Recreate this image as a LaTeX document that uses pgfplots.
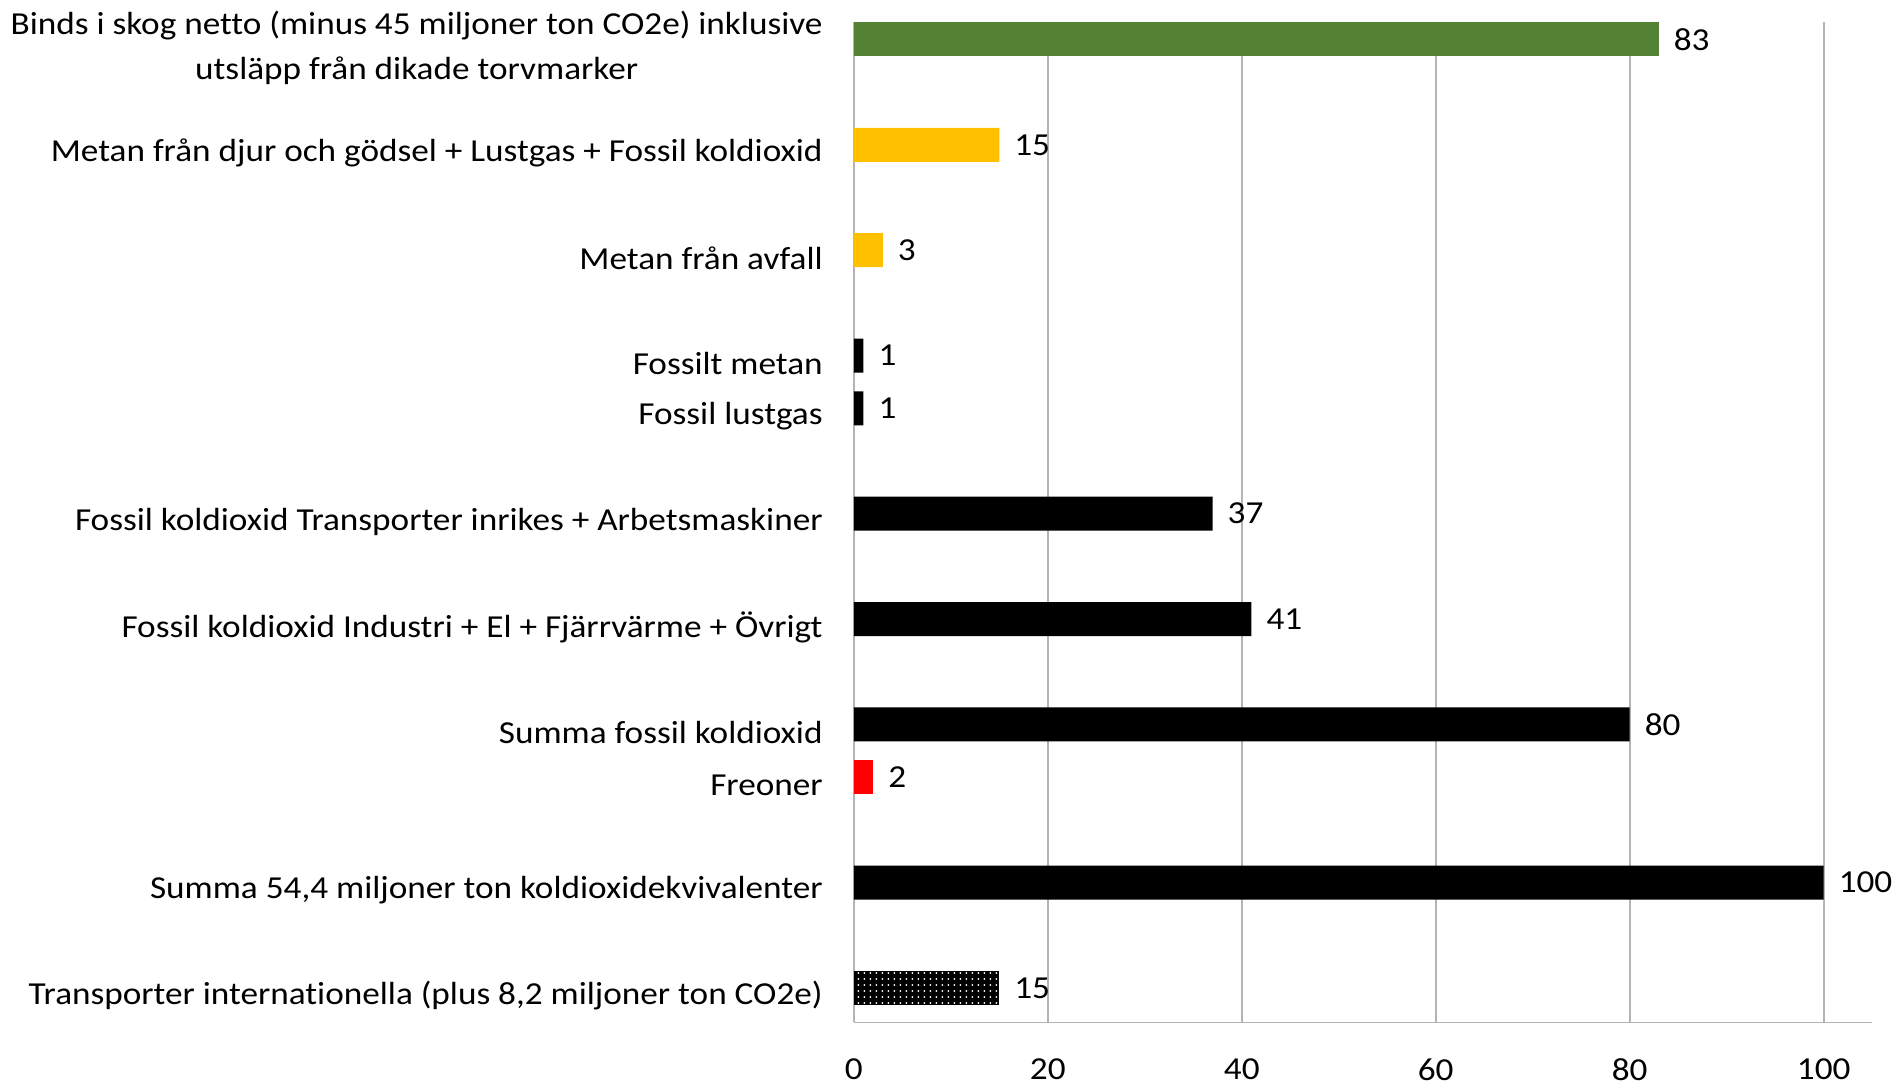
\documentclass[border=0pt]{standalone}
\usepackage{pgfplots}
\pgfplotsset{compat=1.18}
\usepackage{fontspec}
\setmainfont{Carlito}[FakeStretch=1.1, Ligatures=NoCommon]
\usetikzlibrary{patterns}
\definecolor{cgreen}{HTML}{548235}
\definecolor{cyellow}{HTML}{FFC000}
\definecolor{cgrid}{HTML}{B4B4B4}
\begin{document}
\fontsize{16}{22.5}\selectfont
\begin{tikzpicture}
\begin{axis}[
  scale only axis,
  width=509pt, height=500pt,
  xmin=0, xmax=105,
  ymin=-0.655, ymax=18.33,
  xbar, bar width=17pt, bar shift=0pt,
  axis x line*=bottom, axis y line*=left,
  axis line style={-, draw=cgrid, line width=0.9pt},
  xmajorgrids, grid style={draw=cgrid, line width=0.9pt},
  xtick={0,20,40,60,80,100},
  major tick length=0pt,
  ytick={0,2,4,5,7,9,11,12,14,16,18},
  yticklabels={
    {Transporter internationella (plus 8,2 miljoner ton CO2e)},
    {Summa 54,4 miljoner ton koldioxidekvivalenter},
    {Freoner},
    {Summa fossil koldioxid},
    {Fossil koldioxid Industri + El + Fjärrvärme + Övrigt},
    {Fossil koldioxid Transporter inrikes + Arbetsmaskiner},
    {Fossil lustgas},
    {Fossilt metan},
    {Metan från avfall},
    {Metan från djur och gödsel + Lustgas + Fossil koldioxid},
    {Binds i skog netto (minus 45 miljoner ton CO2e) inklusive\\utsläpp från dikade torvmarker}
  },
  yticklabel style={align=center, font=\fontsize{16}{22.5}\selectfont, yshift=-4pt, xshift=-10pt},
  xticklabel style={font=\fontsize{16}{22.5}\selectfont, inner xsep=0pt, inner ysep=3pt, anchor=north, yshift=-15pt},
  /pgf/number format/assume math mode=true,
  nodes near coords,
  every node near coord/.append style={font=\fontsize{16}{22.5}\selectfont, black, xshift=2pt},
  clip=false,
]
\addplot[fill=cgreen, draw=none] coordinates {(83,18)};
\addplot[fill=cyellow, draw=none] coordinates {(15,16) (3,14)};
\addplot[fill=black, draw=none] coordinates {(1,12) (1,11) (37,9) (41,7) (80,5) (100,2)};
\addplot[fill=red, draw=none] coordinates {(2,4)};
\addplot[fill=black, draw=none, nodes near coords=\empty] coordinates {(15,0)};
\addplot[pattern=dots, pattern color=white, draw=none] coordinates {(15,0)};
\end{axis}
\end{tikzpicture}
\end{document}
